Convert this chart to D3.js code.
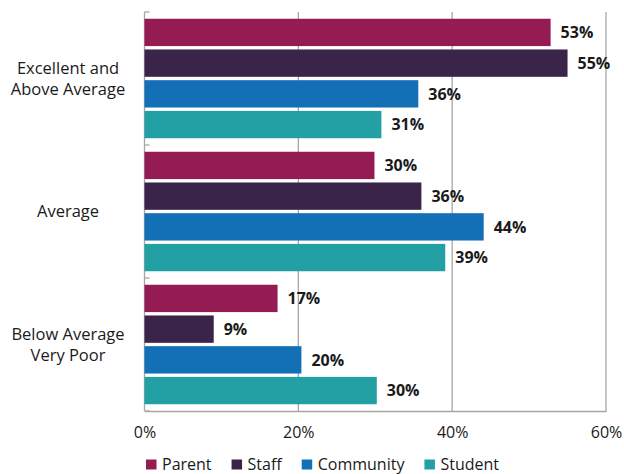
<!DOCTYPE html>
<html>
<head>
<meta charset="utf-8">
<script src="https://cdn.jsdelivr.net/npm/d3@7"></script>
<style>
  body { margin: 0; background: #fff; }
  svg text { font-family: "Open Sans", sans-serif; fill: #1a1a1a; }
</style>
</head>
<body>
<div class="graph"></div>
<script>
const categories = [["Excellent and", "Above Average"], ["Average"], ["Below Average", "Very Poor"]]
const series = ["Parent", "Staff", "Community", "Student"]
const colors = ["#951c53", "#3a2449", "#136fb6", "#22a0a3"]
// percent values per series, one per category
const parent = [52.8, 29.9, 17.3]
const staff = [55.0, 36.0, 9.0]
const community = [35.6, 44.1, 20.4]
const student = [30.8, 39.1, 30.2]
const xTicks = [0, 20, 40, 60]

const width = 624
const height = 474
const margin = ({top: 12, right: 18, bottom: 63, left: 144.5})

const values = [parent, staff, community, student]
const catKeys = categories.map(c => c.join(" "))

const x = d3.scaleLinear()
  .domain([0, 60])
  .range([margin.left, width - margin.right])

const y = d3.scaleBand()
  .domain(catKeys)
  .range([margin.top, height - margin.bottom])

const yInner = d3.scaleBand()
  .domain(series)
  .range([0, y.bandwidth()])
  .paddingInner(0.11)
  .paddingOuter(0.22)

const svg = d3.select(".graph").append("svg")
  .attr("width", width)
  .attr("height", height)

// gridlines
svg.append("g")
  .selectAll("line")
  .data(xTicks.slice(1))
  .join("line")
    .attr("x1", d => x(d)).attr("x2", d => x(d))
    .attr("y1", margin.top).attr("y2", height - margin.bottom)
    .attr("stroke", "#a6a6a6")
    .attr("stroke-width", 1.3)

// bottom axis
var xAxis = g => g
  .attr("transform", `translate(0,${height - margin.bottom})`)
  .call(d3.axisBottom(x).tickValues(xTicks).tickFormat(d => d + "%").tickSize(0).tickPadding(15.6))
  .call(g => g.select(".domain").attr("stroke", "#a6a6a6").attr("stroke-width", 1.3))
  .call(g => g.selectAll("text").style("font-size", "16px").attr("fill", "#1a1a1a"))
svg.append("g").call(xAxis)

// left axis line and ticks at band edges
const edges = catKeys.map(c => y(c)).concat([y.range()[1]])
svg.append("line")
  .attr("x1", x(0)).attr("x2", x(0))
  .attr("y1", margin.top).attr("y2", height - margin.bottom)
  .attr("stroke", "#a6a6a6").attr("stroke-width", 1.3)
svg.append("g")
  .selectAll("line")
  .data(edges)
  .join("line")
    .attr("x1", x(0)).attr("x2", x(0) + 5)
    .attr("y1", d => d).attr("y2", d => d)
    .attr("stroke", "#a6a6a6").attr("stroke-width", 1.3)

// bars
const rows = []
catKeys.forEach((c, i) => {
  series.forEach((s, j) => rows.push({cat: c, s: s, v: values[j][i], color: colors[j]}))
})

svg.append("g")
  .selectAll("rect")
  .data(rows)
  .join("rect")
    .attr("x", x(0))
    .attr("y", d => y(d.cat) + yInner(d.s))
    .attr("width", d => x(d.v) - x(0))
    .attr("height", yInner.bandwidth())
    .attr("fill", d => d.color)

svg.append("g")
  .selectAll("text")
  .data(rows)
  .join("text")
    .attr("x", d => x(d.v) + 10)
    .attr("y", d => y(d.cat) + yInner(d.s) + yInner.bandwidth() / 2)
    .attr("dy", "0.36em")
    .style("font-size", "16px")
    .style("font-weight", "bold")
    .text(d => Math.round(d.v) + "%")

// category labels
const catG = svg.append("g")
  .selectAll("text")
  .data(categories)
  .join("text")
    .attr("text-anchor", "middle")
    .style("font-size", "16.5px")
    .attr("transform", (d, i) => `translate(68,${y(catKeys[i]) + y.bandwidth() / 2})`)
catG.selectAll("tspan")
  .data(d => d.map((t, k) => ({t: t, k: k, n: d.length})))
  .join("tspan")
    .attr("x", 0)
    .attr("y", d => (d.k - (d.n - 1) / 2) * 21)
    .attr("dy", "0.36em")
    .text(d => d.t)

// legend (kept just inside the bottom edge)
const legend = svg.append("g").attr("transform", "translate(146,0)")
let lx = 0
series.forEach((s, i) => {
  const item = legend.append("g").attr("transform", `translate(${lx},0)`)
  item.append("rect")
    .attr("x", 0).attr("y", 459.5)
    .attr("width", 10.5).attr("height", 10)
    .attr("fill", colors[i])
  const t = item.append("text")
    .attr("x", 16).attr("y", 469.5)
    .style("font-size", "16px")
    .text(s)
  lx += 16 + t.node().getComputedTextLength() + 20
})
</script>
</body>
</html>
